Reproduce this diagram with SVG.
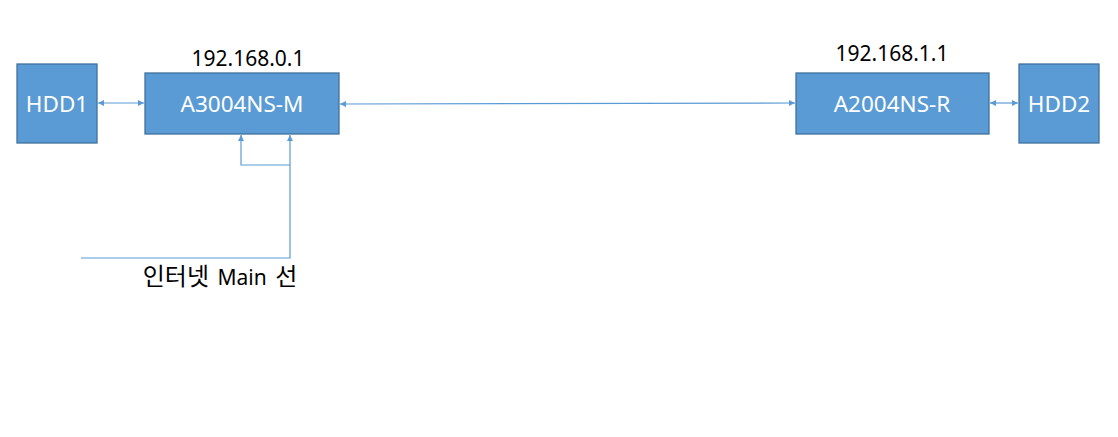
<svg xmlns="http://www.w3.org/2000/svg" width="1118" height="437" viewBox="0 0 1118 437">
<style>
.box{fill:#5B9BD5;stroke:#41719C;stroke-width:1.3}
.lbl{font-family:"Noto Sans","Noto Sans CJK KR",sans-serif;fill:#FFFFFF;font-size:22.5px;text-anchor:middle}
.ip{font-family:"Noto Sans","Noto Sans CJK KR",sans-serif;fill:#000000;font-size:21px;text-anchor:middle}
.ko{font-size:24px}
.ln{fill:none;stroke:#5B9BD5;stroke-width:1.2}
</style>
<defs>
<marker id="ah" viewBox="0 0 10 10" refX="10" refY="5" markerWidth="6" markerHeight="6" markerUnits="userSpaceOnUse" orient="auto-start-reverse">
<path d="M0,0 L10,5 L0,10 z" fill="#5B9BD5"/>
</marker>
</defs>
<rect width="1118" height="437" fill="#FFFFFF"/>
<g id="connectors">
<line class="ln" x1="98" y1="103" x2="144" y2="103" marker-start="url(#ah)" marker-end="url(#ah)"/>
<line class="ln" x1="340" y1="104" x2="795" y2="103" marker-start="url(#ah)" marker-end="url(#ah)"/>
<line class="ln" x1="990" y1="103" x2="1018" y2="103" marker-start="url(#ah)" marker-end="url(#ah)"/>
<polyline class="ln" points="290,165 241,165 241,135" marker-end="url(#ah)"/>
<polyline class="ln" points="81,258 290,258 290,135" marker-end="url(#ah)"/>
</g>
<g id="hdd1">
<rect class="box" x="17" y="64" width="80" height="79"/>
<text class="lbl" x="57" y="112">HDD1</text>
</g>
<g id="a3004">
<rect class="box" x="145" y="73" width="194" height="61"/>
<text class="lbl" x="242" y="112">A3004NS-M</text>
<text class="ip" x="248" y="66">192.168.0.1</text>
</g>
<g id="a2004">
<rect class="box" x="796" y="73" width="193" height="61"/>
<text class="lbl" x="892" y="112">A2004NS-R</text>
<text class="ip" x="892" y="61">192.168.1.1</text>
</g>
<g id="hdd2">
<rect class="box" x="1019" y="64" width="80" height="79"/>
<text class="lbl" x="1059" y="112">HDD2</text>
</g>
<g id="internet">
<text class="ip" x="220" y="285" word-spacing="3"><tspan class="ko">인터넷</tspan> Main <tspan class="ko">선</tspan></text>
</g>
</svg>
